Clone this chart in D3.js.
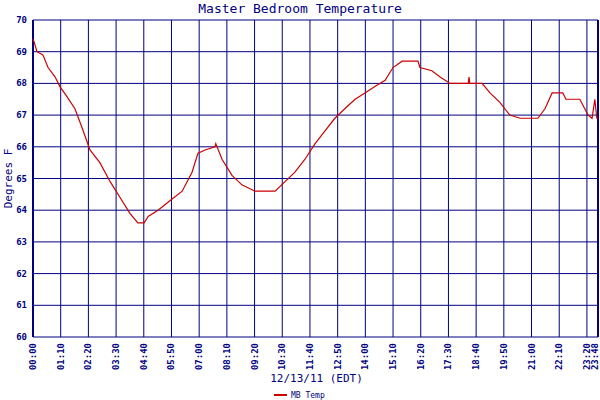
<!DOCTYPE html>
<html><head><meta charset="utf-8">
<script src="https://cdn.jsdelivr.net/npm/d3@7"></script>
<style>body{margin:0;background:#fff}</style>
</head><body>
<div id="chart"></div>
<script>
// minutes since midnight and temperature (deg F)
var minutes = [0,3,10,25,38,56,68,85,106,124,144,169,195,220,245,265,281,291,316,346,377,402,417,435,460,462,478,503,528,561,612,637,662,687,713,738,763,788,814,839,864,890,910,933,973,978,1008,1029,1054,1100,1102,1104,1135,1155,1180,1205,1231,1276,1294,1312,1339,1347,1382,1403,1413,1420,1425,1428];
var temps   = [69.4,69.3,69.0,68.9,68.5,68.2,67.9,67.6,67.2,66.6,65.9,65.5,64.9,64.4,63.9,63.6,63.6,63.8,64.0,64.3,64.6,65.2,65.8,65.9,66.0,66.1,65.6,65.1,64.8,64.6,64.6,64.9,65.2,65.6,66.1,66.5,66.9,67.2,67.5,67.7,67.9,68.1,68.5,68.7,68.7,68.5,68.4,68.2,68.0,68.0,68.2,68.0,68.0,67.7,67.4,67.0,66.9,66.9,67.2,67.7,67.7,67.5,67.5,67.0,66.9,67.5,66.9,66.9];
var tickMinutes = [0,70,140,210,280,350,420,490,560,630,700,770,840,910,980,1050,1120,1190,1260,1330,1400,1428];
var tickLabels = ["00:00","01:10","02:20","03:30","04:40","05:50","07:00","08:10","09:20","10:30","11:40","12:50","14:00","15:10","16:20","17:30","18:40","19:50","21:00","22:10","23:20","23:48"];
var yTicks = [60,61,62,63,64,65,66,67,68,69,70];

var navy = "#000080";
var W = 600, H = 400, m = {top: 20, right: 2, bottom: 63, left: 33};
var svg = d3.select("#chart").append("svg").attr("width", W).attr("height", H);

var x = d3.scaleLinear().domain([0, 1428]).range([m.left, W - m.right]);
var y = d3.scaleLinear().domain([60, 70]).range([H - m.bottom, m.top]);

var g = svg.append("g");
g.selectAll(".vg").data(tickMinutes).enter().append("line")
    .attr("x1", d => x(d)).attr("x2", d => x(d))
    .attr("y1", y(70)).attr("y2", y(60))
    .attr("stroke", navy).attr("stroke-width", 1);
g.selectAll(".hg").data(yTicks).enter().append("line")
    .attr("x1", x(0)).attr("x2", x(1428))
    .attr("y1", d => y(d)).attr("y2", d => y(d))
    .attr("stroke", navy).attr("stroke-width", 1);
g.append("line").attr("x1", x(0)).attr("x2", x(0)).attr("y1", y(70)).attr("y2", y(60))
    .attr("stroke", navy).attr("stroke-width", 2);
g.append("line").attr("x1", x(1428)).attr("x2", x(1428)).attr("y1", y(70)).attr("y2", y(60))
    .attr("stroke", navy).attr("stroke-width", 2);

var font = "'DejaVu Sans Mono', monospace";
g.selectAll(".yl").data(yTicks).enter().append("text")
    .attr("x", m.left - 6).attr("y", d => y(d) + 3)
    .attr("text-anchor", "end").attr("fill", navy)
    .style("font", "bold 9px " + font).text(d => d);
g.selectAll(".xl").data(tickMinutes).enter().append("text")
    .attr("transform", (d, i) => "translate(" + Math.min(x(d) + 3, W - 2) + "," + (y(60) + 6) + ")rotate(-90)")
    .attr("text-anchor", "end").attr("fill", navy)
    .style("font", "bold 9px " + font).text((d, i) => tickLabels[i]);

var data = minutes.map((d, i) => [d, temps[i]]);
svg.append("path").datum(data)
    .attr("d", d3.line().x(d => x(d[0])).y(d => y(d[1])))
    .attr("fill", "none").attr("stroke", "#cc0000").attr("stroke-width", 1.2);

svg.append("text").attr("x", W / 2).attr("y", 13).attr("text-anchor", "middle")
    .attr("fill", navy).style("font", "13px " + font).text("Master Bedroom Temperature");
svg.append("text").attr("transform", "translate(12," + ((m.top + H - m.bottom) / 2) + ")rotate(-90)")
    .attr("text-anchor", "middle").attr("fill", navy)
    .style("font", "11px " + font).text("Degrees F");
svg.append("text").attr("x", (m.left + W) / 2).attr("y", 382).attr("text-anchor", "middle")
    .attr("fill", navy).style("font", "11px " + font).text("12/13/11 (EDT)");
svg.append("line").attr("x1", 274).attr("x2", 287).attr("y1", 395).attr("y2", 395)
    .attr("stroke", "#cc0000").attr("stroke-width", 2);
svg.append("text").attr("x", 291).attr("y", 398).attr("fill", navy)
    .style("font", "8px " + font).text("MB Temp");
</script>
</body></html>
